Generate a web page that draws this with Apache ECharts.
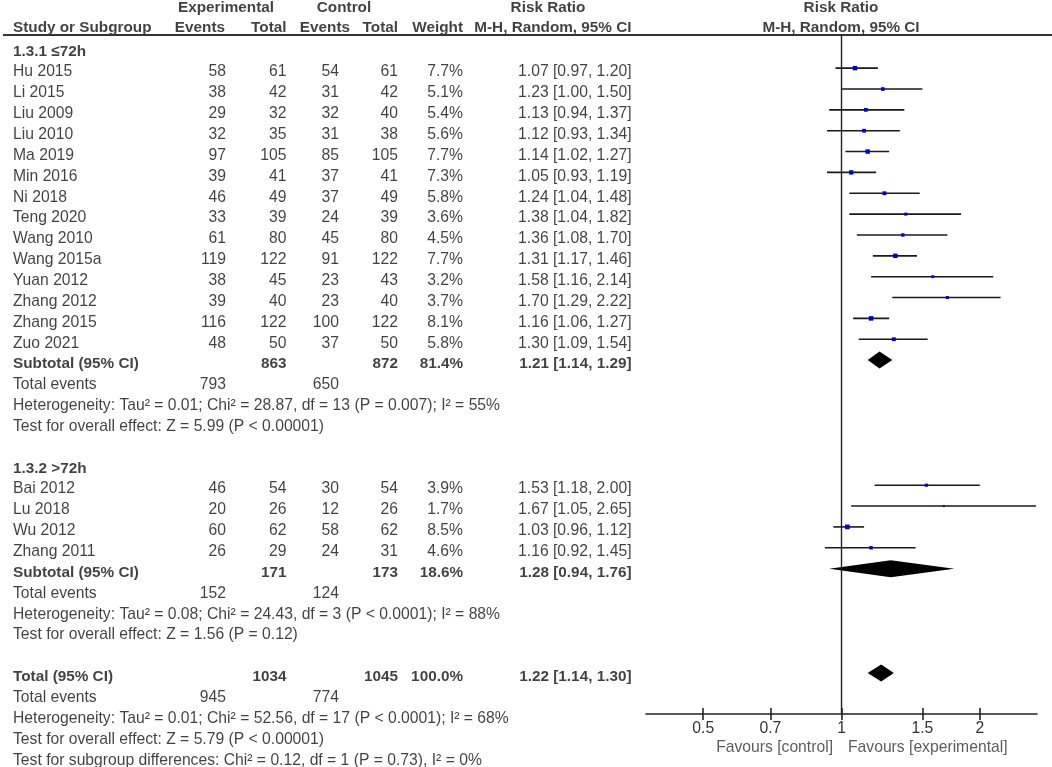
<!DOCTYPE html>
<html>
<head>
<meta charset="utf-8">
<script src="https://cdn.jsdelivr.net/npm/echarts@6/dist/echarts.min.js"></script>
<style>html,body{margin:0;padding:0;background:#fff}#c{width:1052px;height:767px}</style>
</head>
<body>
<div id="c"></div>
<script>
// ---------- data ----------
const studies    = ['Hu 2015','Li 2015','Liu 2009','Liu 2010','Ma 2019','Min 2016','Ni 2018','Teng 2020','Wang 2010','Wang 2015a','Yuan 2012','Zhang 2012','Zhang 2015','Zuo 2021','Bai 2012','Lu 2018','Wu 2012','Zhang 2011'];
const studyGroup = [0,0,0,0,0,0,0,0,0,0,0,0,0,0,1,1,1,1];
const expEvents  = [58,38,29,32,97,39,46,33,61,119,38,39,116,48,46,20,60,26];
const expTotal   = [61,42,32,35,105,41,49,39,80,122,45,40,122,50,54,26,62,29];
const ctrlEvents = [54,31,32,31,85,37,37,24,45,91,23,23,100,37,30,12,58,24];
const ctrlTotal  = [61,42,40,38,105,41,49,39,80,122,43,40,122,50,54,26,62,31];
const weights    = [7.7,5.1,5.4,5.6,7.7,7.3,5.8,3.6,4.5,7.7,3.2,3.7,8.1,5.8,3.9,1.7,8.5,4.6];
const rr         = [1.07,1.23,1.13,1.12,1.14,1.05,1.24,1.38,1.36,1.31,1.58,1.70,1.16,1.30,1.53,1.67,1.03,1.16];
const rrLow      = [0.97,1.00,0.94,0.93,1.02,0.93,1.04,1.04,1.08,1.17,1.16,1.29,1.06,1.09,1.18,1.05,0.96,0.92];
const rrHigh     = [1.20,1.50,1.37,1.34,1.27,1.19,1.48,1.82,1.70,1.46,2.14,2.22,1.27,1.54,2.00,2.65,1.12,1.45];

const groupNames       = ['1.3.1 \u226472h','1.3.2 >72h'];
const groupExpTotal    = [863,171];
const groupCtrlTotal   = [872,173];
const groupWeight      = [81.4,18.6];
const groupRR          = [1.21,1.28];
const groupLow         = [1.14,0.94];
const groupHigh        = [1.29,1.76];
const groupExpEvents   = [793,152];
const groupCtrlEvents  = [650,124];
const groupHet = ['Heterogeneity: Tau\u00b2 = 0.01; Chi\u00b2 = 28.87, df = 13 (P = 0.007); I\u00b2 = 55%',
                  'Heterogeneity: Tau\u00b2 = 0.08; Chi\u00b2 = 24.43, df = 3 (P < 0.0001); I\u00b2 = 88%'];
const groupTest = ['Test for overall effect: Z = 5.99 (P < 0.00001)',
                   'Test for overall effect: Z = 1.56 (P = 0.12)'];

const totalExpTotal = 1034, totalCtrlTotal = 1045, totalWeight = 100.0;
const totalRR = 1.22, totalLow = 1.14, totalHigh = 1.30;
const totalExpEvents = 945, totalCtrlEvents = 774;
const totalHet  = 'Heterogeneity: Tau\u00b2 = 0.01; Chi\u00b2 = 52.56, df = 17 (P < 0.0001); I\u00b2 = 68%';
const totalTest = 'Test for overall effect: Z = 5.79 (P < 0.00001)';
const subgroupTest = 'Test for subgroup differences: Chi\u00b2 = 0.12, df = 1 (P = 0.73), I\u00b2 = 0%';

const tickValues = [0.5, 0.7, 1, 1.5, 2];
const tickLabels = ['0.5','0.7','1','1.5','2'];
const favourLeft = 'Favours [control]';
const favourRight = 'Favours [experimental]';

// ---------- layout ----------
const FONT = 'Liberation Sans, Arial, sans-serif';
const FS = 15.7;
const FSB = 15.3;
const TXT = '#111';
const COL = {name:13, expEv:226, expTot:286.5, ctlEv:339, ctlTot:398, weight:463, ci:631.5};
const H1 = -2.077, H2 = -1.141, HLINE = -0.815;

const texts = [];
function add(x, r, text, align, bold, color) {
  texts.push({
    value: [x, r],
    label: {
      show: true, position: [0, 0], align: align, verticalAlign: 'middle',
      formatter: String(text), fontFamily: FONT, fontSize: bold ? FSB : FS,
      fontWeight: bold ? 'bold' : 'normal', color: color || TXT
    }
  });
}
const ci = (e, l, h) => e.toFixed(2) + ' [' + l.toFixed(2) + ', ' + h.toFixed(2) + ']';

// headers
add(226, H1, 'Experimental', 'center', true);
add(344, H1, 'Control', 'center', true);
add(548, H1, 'Risk Ratio', 'center', true);
add(841, H1, 'Risk Ratio', 'center', true);
add(COL.name, H2, 'Study or Subgroup', 'left', true);
add(225, H2, 'Events', 'right', true);
add(286.5, H2, 'Total', 'right', true);
add(350, H2, 'Events', 'right', true);
add(398, H2, 'Total', 'right', true);
add(463, H2, 'Weight', 'right', true);
add(631.5, H2, 'M-H, Random, 95% CI', 'right', true);
add(841, H2, 'M-H, Random, 95% CI', 'center', true);

const forestData = [];
const diamondData = [];
let row = 0;
for (let g = 0; g < groupNames.length; g++) {
  add(COL.name, row, groupNames[g], 'left', true);
  row++;
  for (let i = 0; i < studies.length; i++) {
    if (studyGroup[i] !== g) continue;
    add(COL.name, row, studies[i], 'left', false);
    add(COL.expEv, row, expEvents[i], 'right', false);
    add(COL.expTot, row, expTotal[i], 'right', false);
    add(COL.ctlEv, row, ctrlEvents[i], 'right', false);
    add(COL.ctlTot, row, ctrlTotal[i], 'right', false);
    add(COL.weight, row, weights[i].toFixed(1) + '%', 'right', false);
    add(COL.ci, row, ci(rr[i], rrLow[i], rrHigh[i]), 'right', false);
    forestData.push([Math.log(rr[i]), Math.log(rrLow[i]), Math.log(rrHigh[i]), row, weights[i]]);
    row++;
  }
  add(COL.name, row, 'Subtotal (95% CI)', 'left', true);
  add(COL.expTot, row, groupExpTotal[g], 'right', true);
  add(COL.ctlTot, row, groupCtrlTotal[g], 'right', true);
  add(COL.weight, row, groupWeight[g].toFixed(1) + '%', 'right', true);
  add(COL.ci, row, ci(groupRR[g], groupLow[g], groupHigh[g]), 'right', true);
  diamondData.push([Math.log(groupRR[g]), Math.log(groupLow[g]), Math.log(groupHigh[g]), row]);
  row++;
  add(COL.name, row, 'Total events', 'left', false);
  add(COL.expEv, row, groupExpEvents[g], 'right', false);
  add(COL.ctlEv, row, groupCtrlEvents[g], 'right', false);
  row++;
  add(COL.name, row, groupHet[g], 'left', false); row++;
  add(COL.name, row, groupTest[g], 'left', false); row++;
  row++; // blank
}
add(COL.name, row, 'Total (95% CI)', 'left', true);
add(COL.expTot, row, totalExpTotal, 'right', true);
add(COL.ctlTot, row, totalCtrlTotal, 'right', true);
add(COL.weight, row, totalWeight.toFixed(1) + '%', 'right', true);
add(COL.ci, row, ci(totalRR, totalLow, totalHigh), 'right', true);
diamondData.push([Math.log(totalRR), Math.log(totalLow), Math.log(totalHigh), row]);
row++;
add(COL.name, row, 'Total events', 'left', false);
add(COL.expEv, row, totalExpEvents, 'right', false);
add(COL.ctlEv, row, totalCtrlEvents, 'right', false);
row++;
add(COL.name, row, totalHet, 'left', false); row++;
add(COL.name, row, totalTest, 'left', false); row++;
add(COL.name, row, subgroupTest, 'left', false); row++;

add(833, 33.41, favourLeft, 'right', false, '#333');
add(848, 33.41, favourRight, 'left', false, '#333');

const logTicks = tickValues.map(Math.log);
function tickFmt(v) {
  for (let i = 0; i < logTicks.length; i++) if (Math.abs(logTicks[i] - v) < 1e-6) return tickLabels[i];
  return '';
}

const chart = echarts.init(document.getElementById('c'), null, {renderer: 'canvas'});
chart.setOption({
  animation: false,
  backgroundColor: '#fff',
  grid: [
    {left: 3, right: 0, top: 0, bottom: 0, outerBoundsMode: 'none'},
    {left: 646, right: 15, top: 34, bottom: 53, outerBoundsMode: 'none'}
  ],
  xAxis: [
    {type: 'value', gridIndex: 0, min: 3, max: 1052, show: false},
    {type: 'value', gridIndex: 1, min: -0.98, max: 0.98, position: 'bottom',
     axisLine: {show: true, onZero: false, lineStyle: {color: '#222', width: 1.6}},
     axisTick: {show: true, customValues: logTicks, length: 6, lineStyle: {color: '#222', width: 1.6}},
     axisLabel: {show: true, customValues: logTicks, formatter: tickFmt, margin: 7,
                 fontFamily: FONT, fontSize: FS, color: '#333'},
     splitLine: {show: false}},
    {type: 'value', gridIndex: 1, min: -0.98, max: 0.98, position: 'bottom',
     axisLine: {show: false, onZero: false},
     axisTick: {show: true, inside: true, customValues: logTicks, length: 6, lineStyle: {color: '#222', width: 1.6}},
     axisLabel: {show: false}, splitLine: {show: false}}
  ],
  yAxis: [
    {type: 'value', gridIndex: 0, inverse: true, min: -2.4604, max: 34.326, show: false},
    {type: 'value', gridIndex: 1, inverse: true, min: -0.638, max: 31.971, show: false}
  ],
  series: [
    {
      type: 'scatter', xAxisIndex: 0, yAxisIndex: 0, symbolSize: 0, silent: true,
      data: texts,
      markLine: {silent: true, symbol: 'none', label: {show: false},
                 lineStyle: {color: '#333', width: 2, type: 'solid'},
                 data: [{yAxis: HLINE}]}
    },
    {
      type: 'custom', xAxisIndex: 1, yAxisIndex: 1, silent: true,
      data: forestData,
      encode: {x: [0, 1, 2], y: 3},
      renderItem: function (params, api) {
        const e = api.coord([api.value(0), api.value(3)]);
        const l = api.coord([api.value(1), api.value(3)]);
        const h = api.coord([api.value(2), api.value(3)]);
        const s = Math.max(2, 1.6 * Math.sqrt(api.value(4)));
        return {type: 'group', children: [
          {type: 'line', shape: {x1: l[0], y1: l[1], x2: h[0], y2: h[1]},
           style: {stroke: '#1a1a1a', lineWidth: 1.6}},
          {type: 'rect', shape: {x: e[0] - s / 2, y: e[1] - s / 2, width: s, height: s},
           style: {fill: '#0000CC'}}
        ]};
      },
      markLine: {silent: true, symbol: 'none', label: {show: false},
                 lineStyle: {color: '#222', width: 1.4, type: 'solid'},
                 data: [{xAxis: 0}]}
    },
    {
      type: 'custom', xAxisIndex: 1, yAxisIndex: 1, silent: true,
      data: diamondData,
      encode: {x: [0, 1, 2], y: 3},
      renderItem: function (params, api) {
        const e = api.coord([api.value(0), api.value(3)]);
        const l = api.coord([api.value(1), api.value(3)]);
        const h = api.coord([api.value(2), api.value(3)]);
        const hh = 8.5;
        return {type: 'polygon',
          shape: {points: [[l[0], l[1]], [e[0], e[1] - hh], [h[0], h[1]], [e[0], e[1] + hh]]},
          style: {fill: '#000'}};
      }
    }
  ]
});
</script>
</body>
</html>
